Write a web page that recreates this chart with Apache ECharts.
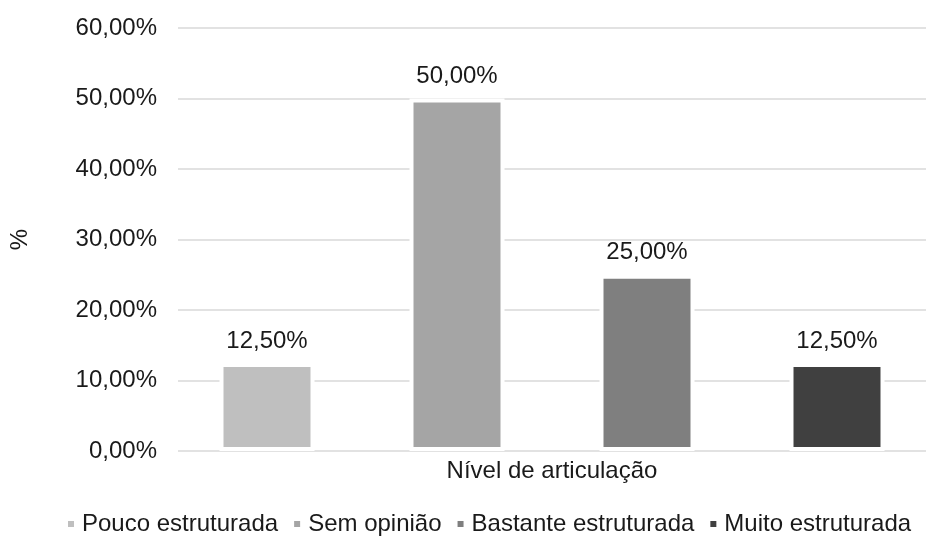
<!DOCTYPE html>
<html>
<head>
<meta charset="utf-8">
<script src="https://cdn.jsdelivr.net/npm/echarts@6/dist/echarts.min.js"></script>
<style>
  html, body { margin: 0; padding: 0; background: #fff; }
  #chart { width: 926px; height: 546px; }
</style>
</head>
<body>
<div id="chart"></div>
<script>
// Share of responses per articulation level (%)
const categories = ['Nível de articulação'];
const seriesNames = ['Pouco estruturada', 'Sem opinião', 'Bastante estruturada', 'Muito estruturada'];
const seriesValues = [[12.5], [50.0], [25.0], [12.5]];
const seriesColors = ['#BFBFBF', '#A5A5A5', '#7F7F7F', '#404040'];
const yTicks = { min: 0, max: 60, interval: 10 };

const fmtPct = v => v.toFixed(2).replace('.', ',') + '%';
const FONT = 'Liberation Sans, Arial, sans-serif';
const FS = 24;

const chart = echarts.init(document.getElementById('chart'), null, { renderer: 'canvas' });

chart.setOption({
  animation: false,
  backgroundColor: '#ffffff',
  textStyle: { fontFamily: FONT },
  grid: { left: 174, right: -8, top: 28, bottom: 95, containLabel: false },
  legend: {
    data: seriesNames,
    left: 66,
    top: 512,
    padding: 0,
    icon: 'rect',
    itemWidth: 8,
    itemHeight: 8,
    itemGap: 14,
    textStyle: { fontFamily: FONT, fontSize: FS, color: '#1a1a1a', padding: [0, 0, 0, 2] }
  },
  xAxis: {
    type: 'category',
    data: categories,
    axisLine: { show: false },
    axisTick: { show: false },
    axisLabel: { fontFamily: FONT, fontSize: FS, color: '#1a1a1a', margin: 8 }
  },
  yAxis: {
    type: 'value',
    min: yTicks.min,
    max: yTicks.max,
    interval: yTicks.interval,
    name: '%',
    nameLocation: 'middle',
    nameGap: 146,
    nameTextStyle: { fontFamily: FONT, fontSize: FS, color: '#1a1a1a' },
    axisLine: { show: false },
    axisTick: { show: false },
    axisLabel: { fontFamily: FONT, fontSize: FS, color: '#1a1a1a', margin: 21, formatter: fmtPct },
    splitLine: { lineStyle: { color: '#D9D9D9', width: 1.5 } }
  },
  series: seriesNames.map((name, i) => ({
    name,
    type: 'bar',
    data: seriesValues[i],
    barWidth: 95,
    barGap: '100%',
    itemStyle: { color: seriesColors[i], borderColor: '#ffffff', borderWidth: 4 },
    label: {
      show: true,
      position: 'top',
      distance: 10,
      fontFamily: FONT,
      fontSize: FS,
      color: '#1a1a1a',
      formatter: p => fmtPct(p.value)
    }
  }))
});
</script>
</body>
</html>
